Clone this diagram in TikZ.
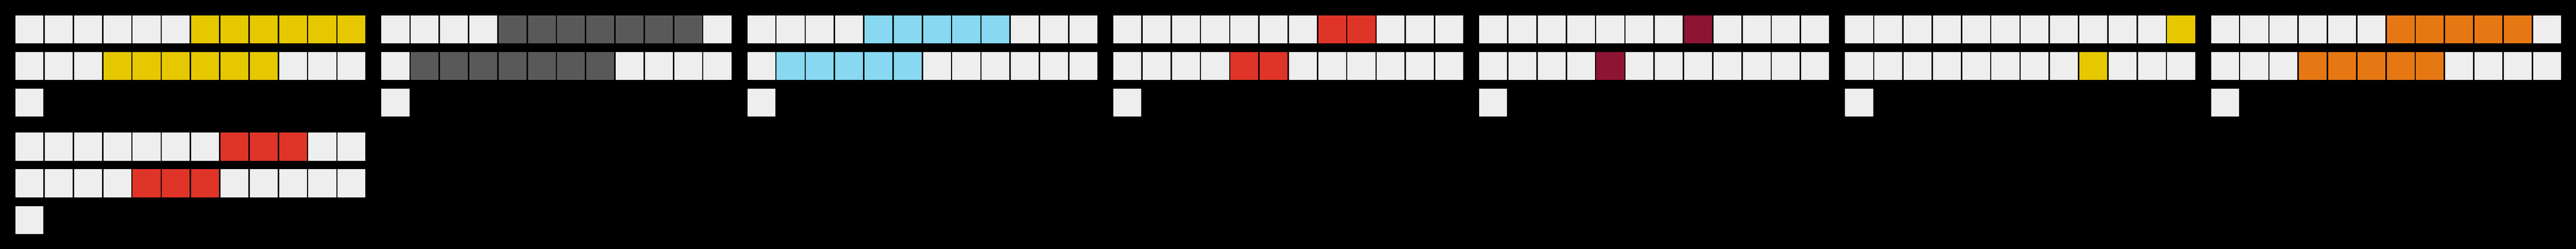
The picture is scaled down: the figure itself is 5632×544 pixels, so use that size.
\documentclass[tikz,border=0pt]{standalone}
\usepackage{tikz}
\definecolor{cellwhite}{HTML}{EEEEEE}
\definecolor{cellyellow}{HTML}{E6C800}
\definecolor{cellgray}{HTML}{595959}
\definecolor{cellblue}{HTML}{87D8F0}
\definecolor{cellred}{HTML}{DF3428}
\definecolor{celldarkred}{HTML}{8E1433}
\definecolor{cellorange}{HTML}{E67814}
\tikzstyle{cell} = [rectangle, draw=none, inner sep=0pt, minimum size=61pt]

\begin{document}
\begin{tikzpicture}[x=1pt,y=-1pt]
            \fill[black] (0,0) rectangle (5632,544);
            \useasboundingbox (0,0) rectangle (5632,544);
            % group / corner / colour / first row span / second row span
            \foreach \g/\gx/\gy/\col/\a/\b/\c/\d in {
                    1/34/34/cellyellow/6/11/3/8,
                    2/834/34/cellgray/4/10/1/7,
                    3/1634/34/cellblue/4/8/1/5,
                    4/2434/34/cellred/7/8/4/5,
                    5/3234/34/celldarkred/7/7/4/4,
                    6/4034/34/cellyellow/11/11/8/8,
                    7/4834/34/cellorange/6/10/3/7,
                    8/34/290/cellred/7/9/4/6} {
                \foreach \i in {0,...,11} {
                    \ifnum\i<\a \def\fa{cellwhite}\else\ifnum\i>\b \def\fa{cellwhite}\else\def\fa{\col}\fi\fi
                    \ifnum\i<\c \def\fb{cellwhite}\else\ifnum\i>\d \def\fb{cellwhite}\else\def\fb{\col}\fi\fi
                    \node[cell, fill=\fa] (g\g-top\i) at (\gx+64*\i+30.5, \gy+30.5) {};
                    \node[cell, fill=\fb] (g\g-mid\i) at (\gx+64*\i+30.5, \gy+110.5) {};
                }
                \node[cell, fill=cellwhite] (g\g-low) at (\gx+30.5, \gy+190.5) {};
            }
        \end{tikzpicture}
\end{document}
